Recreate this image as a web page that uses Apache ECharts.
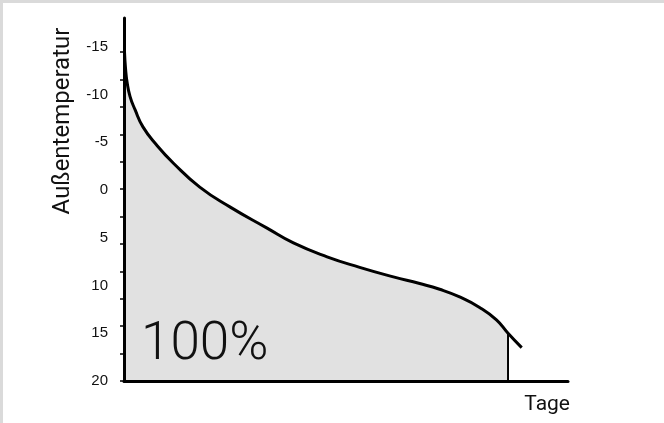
<!DOCTYPE html>
<html>
<head>
<meta charset="utf-8">
<script src="https://cdn.jsdelivr.net/npm/echarts@6/dist/echarts.min.js"></script>
<style>
html,body{margin:0;padding:0;background:#fff;}
#c{width:664px;height:423px;}
</style>
</head>
<body>
<div id="c"></div>
<script>
// Days and outdoor temperature of the duration curve
const days  = [0.5, 1.4, 2.9, 5.7, 10.5, 18, 31, 47, 72, 101, 136, 161, 193, 224, 256, 281, 300, 319, 338, 354, 365, 378];
const temps = [-14.4, -12.8, -11.3, -9.8, -8.4, -6.6, -4.7, -2.8, -0.3, 1.8, 4.0, 5.55, 7.0, 8.1, 9.1, 9.8, 10.4, 11.2, 12.3, 13.6, 15.0, 16.5];
const heatingDays = 365;
const yLabelValues = [-15, -10, -5, 0, 5, 10, 15, 20];
const yTickValues = [20, 17.13, 14.26, 11.39, 8.52, 5.65, 2.78, -0.09, -2.96, -5.83, -8.7, -11.57, -14.44];
const yName = 'Außentemperatur';
const xName = 'Tage';
const shareLabel = '100%';

const curve = days.map((d, i) => [d, temps[i]]);
const filled = curve.filter(p => p[0] <= heatingDays);
const endTemp = temps[days.indexOf(heatingDays)];

const chart = echarts.init(document.getElementById('c'), null, {renderer: 'canvas'});
chart.setOption({
  animation: false,
  backgroundColor: '#ffffff',
  grid: {left: 124, top: 18, right: 96, bottom: 42},
  xAxis: {
    type: 'value', min: 0, max: 422, z: 10,
    axisLine: {show: true, onZero: false, lineStyle: {color: '#000', width: 3}},
    axisTick: {show: false}, axisLabel: {show: false}, splitLine: {show: false}
  },
  yAxis: {
    type: 'value', min: -18, max: 20, inverse: true, z: 10,
    axisLine: {show: true, onZero: false, lineStyle: {color: '#000', width: 3}},
    axisTick: {show: true, customValues: yTickValues, length: 4, lineStyle: {color: '#000', width: 1.5}},
    axisLabel: {show: true, customValues: yLabelValues, margin: 16, color: '#111',
      fontFamily: 'Liberation Sans, Arial, sans-serif', fontSize: 15},
    splitLine: {show: false}
  },
  series: [
    {
      type: 'line', data: filled, smooth: 0.5, showSymbol: false,
      lineStyle: {width: 0, color: '#e1e1e1'},
      areaStyle: {color: '#e1e1e1', opacity: 1, origin: 'end'}, z: 1
    },
    {
      type: 'line', data: [[heatingDays, endTemp], [heatingDays, 20]], showSymbol: false,
      lineStyle: {width: 2, color: '#000'}, z: 3
    },
    {
      type: 'line', data: curve, smooth: 0.5, showSymbol: false,
      lineStyle: {width: 3, color: '#000'}, z: 4
    }
  ],
  graphic: [
    {type: 'rect', shape: {x: 0, y: 0, width: 664, height: 3}, style: {fill: '#dadada'}, silent: true},
    {type: 'rect', shape: {x: 0, y: 0, width: 3, height: 423}, style: {fill: '#dadada'}, silent: true},
    {type: 'text', x: 63, y: 121, rotation: Math.PI / 2,
      style: {text: yName, fill: '#111', font: '24px Roboto, sans-serif', align: 'center', verticalAlign: 'middle'}},
    {type: 'text', x: 570, y: 405,
      style: {text: xName, fill: '#111', font: '21px Roboto, sans-serif', align: 'right', verticalAlign: 'middle'}},
    {type: 'text', x: 141, y: 346, z: 10,
      style: {text: shareLabel, fill: '#111', font: '300 53px Roboto, sans-serif', align: 'left', verticalAlign: 'middle'}}
  ]
});
</script>
</body>
</html>
